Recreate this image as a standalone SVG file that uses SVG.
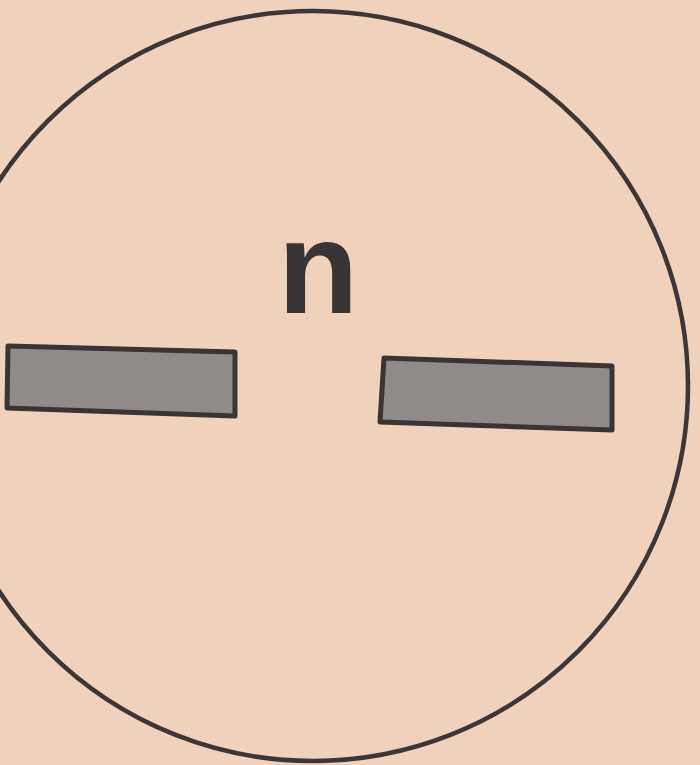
<svg xmlns="http://www.w3.org/2000/svg" width="700" height="765" viewBox="0 0 700 765">
<style>
.ink{fill:none;stroke:#3d3636;stroke-width:4.5}
.bar{fill:#908b89;stroke:#3a3434;stroke-width:5;stroke-linejoin:round}
.lbl{font-family:"Liberation Sans",Arial,sans-serif;font-weight:bold;fill:#3a3434}
</style>
<rect width="700" height="765" fill="#f0d1bc"/>
<g id="circle"><ellipse class="ink" cx="313" cy="386" rx="375" ry="375"/></g>
<g id="label-n"><text class="lbl" x="318" y="313" font-size="132" text-anchor="middle">n</text></g>
<g id="bar-left"><polygon class="bar" points="8,346 235,352 235,416 7,408"/></g>
<g id="bar-right"><polygon class="bar" points="384,358 612,366 612,430 380,422"/></g>
</svg>
